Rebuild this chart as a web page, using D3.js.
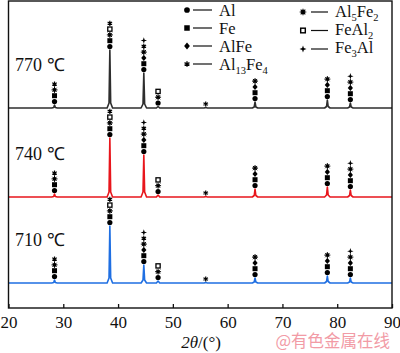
<!DOCTYPE html>
<html><head><meta charset="utf-8">
<script src="https://cdn.jsdelivr.net/npm/d3@7"></script>
<style>body{margin:0;background:#fff}svg{display:block}</style></head>
<body><svg id="c" width="400" height="353"></svg>
<script>
// ---------- data ----------
const xTicks = [20, 30, 40, 50, 60, 70, 80, 90];
const temps = ["770 ℃", "740 ℃", "710 ℃"];
// XRD profiles [2θ, intensity(a.u.)]
const s770 = [[20,0],[27.9,0],[28.25,0.5],[28.4,3],[28.55,0.5],[28.9,0],[38.0,0],[38.35,5],[38.5,58],[38.65,5],[39.0,0],
  [44.2,0],[44.55,4],[44.7,35],[44.85,4],[45.2,0],[47.0,0],[47.3,1.5],[47.6,0],[55.7,0],[56.0,0.5],[56.3,0],
  [64.5,0],[64.85,1],[65.0,6],[65.15,1],[65.5,0],[77.7,0],[78.05,1.5],[78.2,8],[78.35,1.5],[78.7,0],
  [81.9,0],[82.25,1],[82.4,5],[82.55,1],[82.9,0],[90,0]];
const s740 = [[20,0],[27.9,0],[28.25,0.5],[28.4,3],[28.55,0.5],[28.9,0],[38.0,0],[38.35,5],[38.5,59],[38.65,5],[39.0,0],
  [44.2,0],[44.55,5],[44.7,42],[44.85,5],[45.2,0],[47.0,0],[47.3,2],[47.6,0],[55.7,0],[56.0,0.5],[56.3,0],
  [64.5,0],[64.85,1.5],[65.0,8],[65.15,1.5],[65.5,0],[77.7,0],[78.05,2],[78.2,10],[78.35,2],[78.7,0],
  [81.9,0],[82.25,1.5],[82.4,7],[82.55,1.5],[82.9,0],[90,0]];
const s710 = [[20,0],[27.9,0],[28.25,0.5],[28.4,3],[28.55,0.5],[28.9,0],[38.0,0],[38.35,5],[38.5,57],[38.65,5],[39.0,0],
  [44.2,0],[44.55,3],[44.7,18],[44.85,3],[45.2,0],[47.0,0],[47.3,2],[47.6,0],[55.7,0],[56.0,0.5],[56.3,0],
  [64.5,0],[64.85,1],[65.0,5],[65.15,1],[65.5,0],[77.7,0],[78.05,1.5],[78.2,7],[78.35,1.5],[78.7,0],
  [81.9,0],[82.25,1],[82.4,5],[82.55,1],[82.9,0],[90,0]];
const series = [s770, s740, s710];
// phase identification per peak (bottom to top)
const peakPos = [28.4, 38.5, 44.7, 47.3, 56.0, 65.0, 78.2, 82.4];
const peakPhases = [
  ["Al","Fe","Al5Fe2","Al13Fe4"],
  ["Al","Fe","Al5Fe2","FeAl2","Al13Fe4"],
  ["Al","Fe","AlFe","Al5Fe2","Al13Fe4","Fe3Al"],
  ["Al","Al5Fe2","FeAl2"],
  ["Al13Fe4"],
  ["Al","Fe","AlFe","Al5Fe2"],
  ["Al","Fe","AlFe","Al5Fe2"],
  ["Al","Fe","AlFe","Al5Fe2","Fe3Al"]
];
const legendLeft = ["Al","Fe","AlFe","Al13Fe4"];
const legendRight = ["Al5Fe2","FeAl2","Fe3Al"];
const phaseLabels = {
  "Al":[["Al",0]], "Fe":[["Fe",0]], "AlFe":[["AlFe",0]],
  "Al13Fe4":[["Al",0],["13",1],["Fe",0],["4",1]],
  "Al5Fe2":[["Al",0],["5",1],["Fe",0],["2",1]],
  "FeAl2":[["FeAl",0],["2",1]],
  "Fe3Al":[["Fe",0],["3",1],["Al",0]]
};

// ---------- layout ----------
const svg = d3.select("#c");
const L = 8.5, R = 392, T = 1, B = 308;
const x = d3.scaleLinear().domain([20, 90]).range([L, R]);
const y = d3.scaleLinear().domain([0, 307]).range([B, T]);
const offsets = [200, 111, 25];
const colors = ["#2e2e2e", "#e8161c", "#1f6fe2"];
const serif = "'Liberation Serif','Times New Roman',serif";

// lines
const line = d3.line().x(d => x(d[0]));
series.forEach((s, i) => {
  line.y(d => y(d[1] + offsets[i]));
  svg.append("path").attr("d", line(s)).attr("fill", "none")
    .attr("stroke", colors[i]).attr("stroke-width", 1.6).attr("stroke-linejoin", "round");
});

// symbols
function drawSym(g, ph, cx, cy, k) {
  k = k || 1;
  const s = g.append("g").attr("transform", `translate(${cx},${cy}) scale(${k})`);
  if (ph === "Al") s.append("circle").attr("r", 2.6).attr("fill", "#000");
  else if (ph === "Fe") s.append("rect").attr("x", -2.5).attr("y", -2.5).attr("width", 5).attr("height", 5).attr("fill", "#000");
  else if (ph === "AlFe") s.append("path").attr("d", "M0,-3.1L2.6,0L0,3.1L-2.6,0Z").attr("fill", "#000");
  else if (ph === "FeAl2") s.append("rect").attr("x", -2.1).attr("y", -2.1).attr("width", 4.2).attr("height", 4.2)
      .attr("fill", "#fff").attr("stroke", "#000").attr("stroke-width", 1.3);
  else if (ph === "Al5Fe2") {
    s.append("circle").attr("r", 1.8).attr("fill", "#000");
    let d = "";
    for (let a = 0; a < 8; a++) { const t = a * Math.PI / 4; d += `M0,0L${(3 * Math.cos(t)).toFixed(2)},${(3 * Math.sin(t)).toFixed(2)}`; }
    s.append("path").attr("d", d).attr("stroke", "#000").attr("stroke-width", 1);
  } else if (ph === "Al13Fe4") {
    let d = "";
    for (let a = 0; a < 6; a++) { const t = a * Math.PI / 3 - Math.PI / 2; d += `M0,0L${(2.6 * Math.cos(t)).toFixed(2)},${(2.6 * Math.sin(t)).toFixed(2)}`; }
    s.append("path").attr("d", d).attr("stroke", "#000").attr("stroke-width", 1.2);
    s.append("circle").attr("r", 1).attr("fill", "#000");
  } else if (ph === "Fe3Al") {
    s.append("path").attr("d", "M0,-3.2L0.8,-0.8L3.2,0L0.8,0.8L0,3.2L-0.8,0.8L-3.2,0L-0.8,-0.8Z").attr("fill", "#000");
  }
}

const marks = svg.append("g");
series.forEach((s, i) => {
  peakPos.forEach((p, j) => {
    const top = d3.max(s.filter(d => Math.abs(d[0] - p) < 0.3), d => d[1]);
    const y0 = y(top + offsets[i]) - 3.5;
    peakPhases[j].forEach((ph, k) => drawSym(marks, ph, x(p), y0 - k * 5.8));
  });
});

// temperature labels
temps.forEach((t, i) => {
  svg.append("text").attr("x", 15).attr("y", y(offsets[i]) - 37)
    .attr("font-family", serif).attr("font-size", 18).attr("fill", "#111").text(t);
});

// frame and axis
svg.append("rect").attr("x", L).attr("y", T).attr("width", R - L).attr("height", B - T)
  .attr("fill", "none").attr("stroke", "#111").attr("stroke-width", 1.4);
const ax = svg.append("g").attr("transform", `translate(0,${B})`)
  .call(d3.axisBottom(x).tickValues(xTicks).tickSizeInner(-4).tickSizeOuter(0).tickPadding(8));
ax.select(".domain").remove();
ax.selectAll("line").attr("stroke", "#111").attr("stroke-width", 1.3);
ax.selectAll("text").attr("font-family", serif).attr("font-size", 17).attr("fill", "#111");

const title = svg.append("text").attr("x", 201).attr("y", 348).attr("text-anchor", "middle")
  .attr("font-family", serif).attr("font-size", 17).attr("fill", "#111");
title.append("tspan").attr("font-style", "italic").text("2θ");
title.append("tspan").text("/(°)");

// legend
function legendItem(ph, sx, sy, lx0, lx1, tx, ty) {
  drawSym(svg, ph, sx, sy, 1.1);
  svg.append("line").attr("x1", lx0).attr("x2", lx1).attr("y1", sy).attr("y2", sy).attr("stroke", "#111").attr("stroke-width", 1.2);
  const t = svg.append("text").attr("x", tx).attr("y", ty).attr("font-family", serif).attr("font-size", 16.5).attr("fill", "#111");
  let sub = false;
  phaseLabels[ph].forEach(([str, isSub]) => {
    const ts = t.append("tspan").text(str);
    if (isSub && !sub) { ts.attr("dy", 3.5).attr("font-size", 10.5); sub = true; }
    else if (isSub) ts.attr("font-size", 10.5);
    else if (sub) { ts.attr("dy", -3.5); sub = false; }
  });
}
legendLeft.forEach((ph, i) => legendItem(ph, 187, 10 + i * 18, 193, 212, 219, 16 + i * 18));
legendRight.forEach((ph, i) => legendItem(ph, 303, 12 + i * 18.5, 311, 328, 335, 17 + i * 18));

// watermark
svg.append("text").attr("x", 390).attr("y", 347).attr("text-anchor", "end")
  .attr("font-family", "'Noto Sans CJK SC',sans-serif").attr("font-size", 16.5)
  .attr("fill", "#f08a96").attr("opacity", 0.85).text("@有色金属在线");
</script></body></html>
